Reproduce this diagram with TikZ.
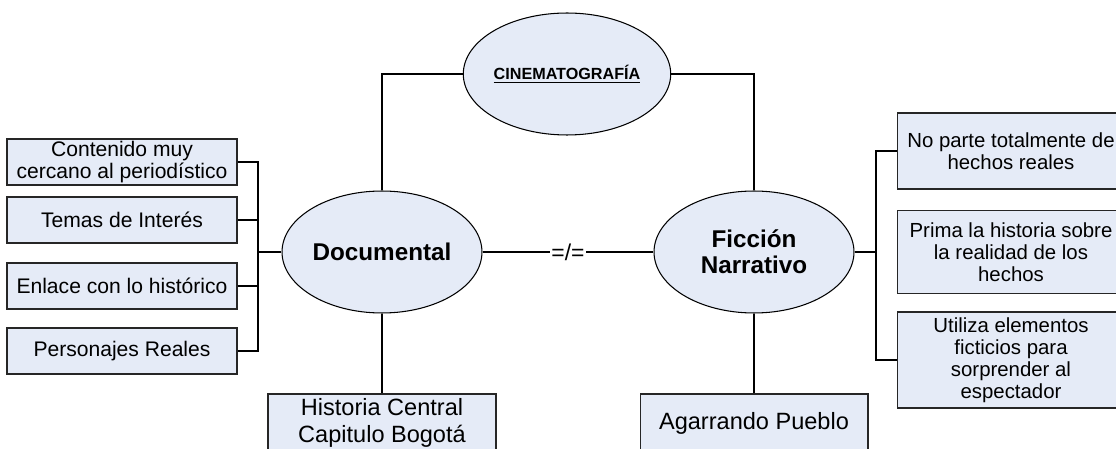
\documentclass[tikz,border=0pt]{standalone}
\usepackage{fontspec}
\setmainfont{Liberation Sans}
\usepackage{tikz}
\usetikzlibrary{shapes}
\usetikzlibrary{positioning}
\definecolor{cajafill}{RGB}{229,235,247}

\begin{document}
\begin{tikzpicture}[x=0.02cm, y=-0.02cm, line width=0.6pt,
  elipse/.style={draw, ellipse, fill=cajafill, minimum width=4cm, minimum height=2.44cm, inner sep=0pt, align=center, font=\fontsize{13.8}{14.6}\selectfont\bfseries},
  caja/.style={draw=black!85, fill=cajafill, rectangle, inner sep=0pt, align=center, font=\fontsize{12}{12.2}\selectfont},
  cajader/.style={caja, minimum width=4.56cm, font=\fontsize{11.6}{12.6}\selectfont},
  cajagrande/.style={caja, minimum width=4.56cm, minimum height=1.16cm, font=\fontsize{13.4}{15.4}\selectfont},
  igual/.style={fill=white, inner sep=1pt, font=\fontsize{13}{13}\selectfont}]
\useasboundingbox (0,0) rectangle (1116,449);
\clip (0,0) rectangle (1116,449);
\node[elipse, font=\fontsize{9.2}{10}\selectfont\bfseries] (C0) at (567,74) {\underline{CINEMATOGRAFÍA}};
\node[elipse] (D0) at (382,252) {Documental};
\node[elipse] (F0) at (754,252) {Ficción\\Narrativo};
\node[caja, minimum width=4.6cm, minimum height=0.92cm] (D1) at (122,162) {Contenido muy\\cercano al periodístico};
\node[caja, minimum width=4.6cm, minimum height=0.92cm] (D2) at (122,220) {Temas de Interés};
\node[caja, minimum width=4.6cm, minimum height=0.92cm] (D3) at (122,286) {Enlace con lo histórico};
\node[caja, minimum width=4.6cm, minimum height=0.92cm] (D4) at (122,351) {Personajes Reales};
\node[cajagrande] (D5) at (382,423) {Historia Central\\Capitulo Bogotá};
\node[cajader, minimum height=1.52cm] (F1) at (1011,151) {No parte totalmente de\\hechos reales};
\node[cajader, minimum height=1.66cm] (F2) at (1011,252) {Prima la historia sobre\\la realidad de los\\hechos};
\node[cajader, minimum height=1.92cm] (F3) at (1011,360) {Utiliza elementos\\ficticios para\\sorprender al\\espectador};
\node[cajagrande] (F4) at (754,423) {Agarrando Pueblo};
\coordinate (DJ) at (258,252);
\coordinate (FJ) at (876,252);
\draw (C0.west) -| (D0.north);
\draw (C0.east) -| (F0.north);
\draw (D0.east) -- node[igual] {=/=} (F0.west);
\draw (D0.south) -- (D5.north);
\draw (F0.south) -- (F4.north);
\draw (D0.west) -- (DJ);
\foreach \n in {1,...,4}
  \draw (D\n.east) -| (DJ);
\draw (F0.east) -- (FJ);
\draw (F1.west) -| (FJ);
\draw (F3.west) -| (FJ);
\end{tikzpicture}
\end{document}
